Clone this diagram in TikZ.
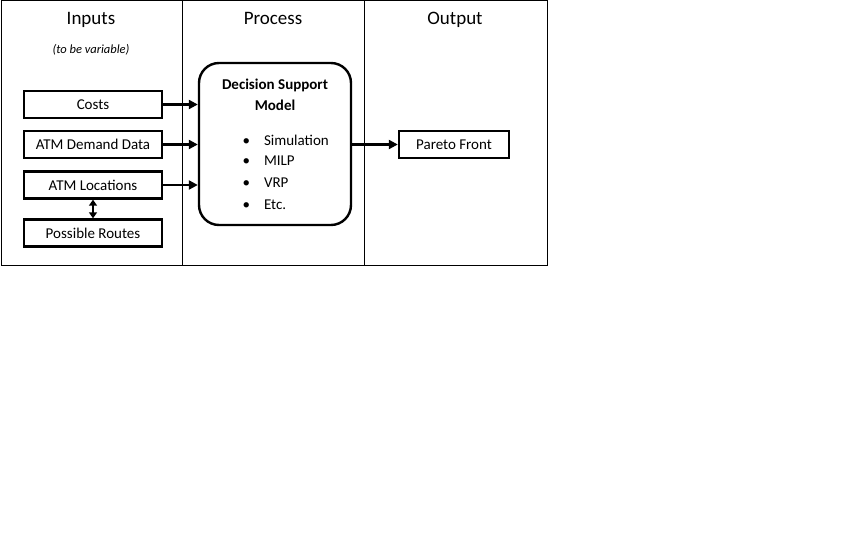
\documentclass[tikz,border=0pt]{standalone}
\usepackage{fontspec}
\setmainfont{Carlito}
\usetikzlibrary{arrows.meta}
\begin{document}
\begin{tikzpicture}[x=1pt,y=-1pt,
  box/.style={draw,line width=2.4pt,minimum width=138pt,minimum height=27pt,inner sep=0pt,font=\fontsize{15}{17}\selectfont},
  title/.style={anchor=base,font=\fontsize{19}{21}\selectfont},
  arr/.style={line width=2.2pt,-{Triangle[length=9pt,width=9pt]}},
  darr/.style={line width=2.2pt,{Triangle[length=6pt,width=8pt]}-{Triangle[length=6pt,width=8pt]}},
  item/.style={anchor=west,font=\fontsize{15}{17}\selectfont}]
\useasboundingbox (0,0) rectangle (864,540);
\fill[white] (0,0) rectangle (864,540);
\draw[line width=1pt] (1,1) rectangle (547,265);
\draw[line width=1pt] (182,1) -- (182,265);
\draw[line width=1pt] (364,1) -- (364,265);
\node[title] (tin) at (91,25) {Inputs};
\node[title] (tpr) at (273,25) {Process};
\node[title] (tout) at (455,25) {Output};
\node[font=\fontsize{12.5}{14}\selectfont\itshape] (var) at (91,50) {(to be variable)};
\node[box] (costs) at (93,104.5) {Costs};
\node[box] (demand) at (93,144.5) {ATM Demand Data};
\node[box] (loc) at (93,185) {ATM Locations};
\node[box] (routes) at (93,233) {Possible Routes};
\node[draw,line width=2.4pt,rounded corners=20pt,minimum width=152pt,minimum height=162pt] (dsm) at (275,144) {};
\node[font=\fontsize{15}{21}\selectfont\bfseries,align=center] (dsmt) at (275,94.5) {Decision Support\\Model};
\node[item] (b1) at (239,140) {•\hspace{14pt}Simulation};
\node[item] (b2) at (239,161) {•\hspace{14pt}MILP};
\node[item] (b3) at (239,183) {•\hspace{14pt}VRP};
\node[item] (b4) at (239,205) {•\hspace{14pt}Etc.};
\node[box,minimum width=110pt] (pareto) at (454,144.5) {Pareto Front};
\draw[arr] (costs.east) -- (costs.east -| dsm.west);
\draw[arr] (demand.east) -- (demand.east -| dsm.west);
\draw[arr] (loc.east) -- (loc.east -| dsm.west);
\draw[darr] (loc.south) -- (routes.north);
\draw[arr] (dsm.east |- pareto.west) -- (pareto.west);
\end{tikzpicture}
\end{document}
